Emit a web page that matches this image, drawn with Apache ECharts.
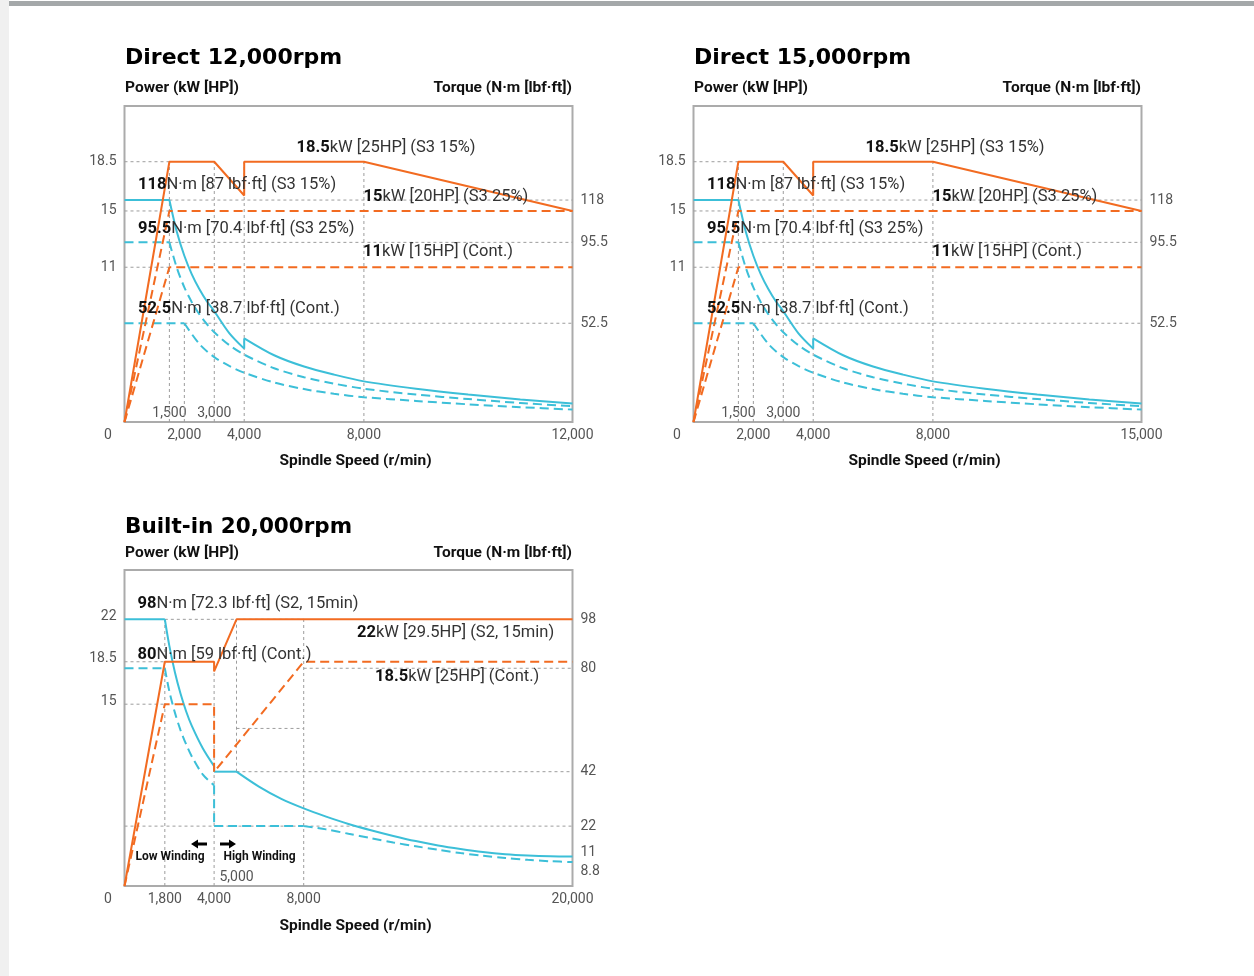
<!DOCTYPE html>
<html><head><meta charset="utf-8">
<script src="https://cdn.jsdelivr.net/npm/echarts@6/dist/echarts.min.js"></script>
<style>
html,body{margin:0;padding:0;background:#fff;}
#c{position:absolute;left:0;top:0;width:1254px;height:976px;}
#strip{position:absolute;left:0;top:0;width:9px;height:976px;background:#f0f0f0;}
#bar{position:absolute;left:9px;top:1px;width:1245px;height:5px;background:#a4a8a9;}
</style></head><body>
<div id="c"></div><div id="strip"></div><div id="bar"></div>
<script>
// ===== Direct 12,000rpm =====
const d12XTicks = [0, 2000, 4000, 8000, 12000];
const d12XInnerTicks = [1500, 3000];
const d12PowerTicks = [18.5, 15, 11];
const d12TorqueTicks = [118, 95.5, 52.5];
const d12PowerS3_15 = [[0,0],[1500,18.5],[3000,18.5],[4000,16.1],[4000,18.5],[8000,18.5],[12000,15]];
const d12PowerS3_25 = [[0,0],[1500,15],[12000,15]];
const d12PowerCont = [[0,0],[1500,11],[12000,11]];
const d12TorqueS3_15 = [
  [[0,118],[1500,118]],
  [[1500,118],[1750,101],[2000,88.4],[2250,78.5],[2500,70.7],[2750,64.2],[3000,58.9],[3500,47.3],[4000,39]],
  [[4000,39],[4000,44.5]],
  [[4000,44.5],[5000,35.5],[6000,29.5],[7000,25.2],[8000,21.6],[9000,17.7],[10000,14.6],[11000,12],[12000,9.8]]
];
const d12TorqueS3_25 = [
  [[0,95.5],[1500,95.5]],
  [[1500,95.5],[1750,81.9],[2000,71.6],[2250,63.7],[2500,57.3],[2750,52.1],[3000,47.7],[3500,40.9],[4000,35.8],[5000,28.6],[6000,23.8],[7000,20.4],[8000,17.7],[9000,14.6],[10000,12.2],[11000,10.1],[12000,8.4]]
];
const d12TorqueCont = [
  [[0,52.5],[2000,52.5]],
  [[2000,52.5],[2500,41.5],[3000,34.5],[3500,29.8],[4000,26.2],[5000,21],[6000,17.5],[7000,15],[8000,13.2],[9000,11.2],[10000,9.4],[11000,7.9],[12000,6.6]]
];
const d12HGridPower = [[18.5,0,1500],[15,0,1500],[11,0,1500]];
const d12HGridTorque = [[118,1500,12000],[95.5,1500,12000],[52.5,2000,12000]];
const d12VGridPower = [[1500,0,18.5],[3000,0,18.5],[4000,0,18.5],[8000,0,18.5]];
const d12VGridTorque = [[2000,0,52.5]];

// ===== Direct 15,000rpm =====
const d15XTicks = [0, 2000, 4000, 8000, 15000];
const d15XInnerTicks = [1500, 3000];
const d15PowerTicks = [18.5, 15, 11];
const d15TorqueTicks = [118, 95.5, 52.5];
const d15PowerS3_15 = [[0,0],[1500,18.5],[3000,18.5],[4000,16.1],[4000,18.5],[8000,18.5],[15000,15]];
const d15PowerS3_25 = [[0,0],[1500,15],[15000,15]];
const d15PowerCont = [[0,0],[1500,11],[15000,11]];
const d15TorqueS3_15 = [
  [[0,118],[1500,118]],
  [[1500,118],[1750,101],[2000,88.4],[2250,78.5],[2500,70.7],[2750,64.2],[3000,58.9],[3500,47.3],[4000,39]],
  [[4000,39],[4000,44.5]],
  [[4000,44.5],[5000,35.5],[6000,29.5],[7000,25.2],[8000,21.6],[9750,17.7],[11500,14.6],[13250,12],[15000,9.8]]
];
const d15TorqueS3_25 = [
  [[0,95.5],[1500,95.5]],
  [[1500,95.5],[1750,81.9],[2000,71.6],[2250,63.7],[2500,57.3],[2750,52.1],[3000,47.7],[3500,40.9],[4000,35.8],[5000,28.6],[6000,23.8],[7000,20.4],[8000,17.7],[9750,14.6],[11500,12.2],[13250,10.1],[15000,8.4]]
];
const d15TorqueCont = [
  [[0,52.5],[2000,52.5]],
  [[2000,52.5],[2500,41.5],[3000,34.5],[3500,29.8],[4000,26.2],[5000,21],[6000,17.5],[7000,15],[8000,13.2],[9750,11.2],[11500,9.4],[13250,7.9],[15000,6.6]]
];
const d15HGridPower = [[18.5,0,1500],[15,0,1500],[11,0,1500]];
const d15HGridTorque = [[118,1500,15000],[95.5,1500,15000],[52.5,2000,15000]];
const d15VGridPower = [[1500,0,18.5],[3000,0,18.5],[4000,0,18.5],[8000,0,18.5]];
const d15VGridTorque = [[2000,0,52.5]];

// ===== Built-in 20,000rpm =====
const d20XTicks = [0, 1800, 4000, 8000, 20000];
const d20XInnerTicks = [5000];
const d20PowerTicks = [22, 18.5, 15];
const d20TorqueTicks = [98, 80, 42, 22, 11, 8.8];
const d20PowerS2 = [[0,0],[1800,18.5],[4000,18.5],[4000,17.7],[5000,22],[20000,22]];
const d20PowerCont = [[0,0],[1800,15],[4000,15],[4000,9.4],[8000,18.5],[20000,18.5]];
const d20TorqueS2 = [
  [[0,98],[1800,98]],
  [[1800,98],[2000,88.3],[2250,78.5],[2500,70.7],[2750,64.2],[3000,58.9],[3500,50.5],[4000,44]],
  [[4000,44],[4000,42]],
  [[4000,42],[5000,42]],
  [[5000,42],[6000,36.5],[7000,32],[8000,28.5],[9000,25.5],[10000,22.8],[11000,20.5],[12000,18.4],[13000,16.5],[14000,14.9],[15000,13.6],[16000,12.5],[17000,11.7],[18000,11.2],[19000,10.9],[20000,10.8]]
];
const d20TorqueCont = [
  [[0,80],[1800,80]],
  [[1800,80],[2000,71.6],[2250,63.7],[2500,57.3],[2750,52.1],[3000,47.7],[3500,40.9],[4000,37]],
  [[4000,37],[4000,22]],
  [[4000,22],[8000,22]],
  [[8000,22],[9000,20.8],[10000,19.2],[11000,17.6],[12000,16.0],[13000,14.6],[14000,13.3],[15000,12.1],[16000,11.1],[17000,10.3],[18000,9.6],[19000,9.1],[20000,8.8]]
];
const d20HGridPower = [[22,1800,8000],[18.5,0,1800],[15,0,1800],[13,5000,8000]];
const d20HGridTorque = [[80,8000,20000],[42,5000,20000],[22,0,20000]];
const d20VGridPower = [[1800,0,22],[4000,0,18.5],[8000,0,22]];
const d20VGridTorque = [[5000,42,98]];

// ---------- layout / styling ----------
const ORANGE = '#f26b21', CYAN = '#3cbfd8', GRIDC = '#9d9d9d';
const FONT = 'Roboto';
const map12 = r => r <= 8000 ? r : 8000 + (r - 8000) * 6971 / 4000;
const map15 = r => r <= 8000 ? r : 8000 + (r - 8000) * 6971 / 7000;
const map20 = r => r;
const fmtNum = v => v.toLocaleString('en-US');

const charts = [
  {left:124.5, top:106, map:map12, xMax:map12(12000), pMax:22.46, tMax:168,
   xTicks:d12XTicks, xInner:d12XInnerTicks, pTicks:d12PowerTicks, tTicks:d12TorqueTicks,
   power:[[d12PowerS3_15,false],[d12PowerS3_25,true],[d12PowerCont,true]],
   torque:[[d12TorqueS3_15,false],[d12TorqueS3_25,true],[d12TorqueCont,true]],
   hgp:d12HGridPower, hgt:d12HGridTorque, vgp:d12VGridPower, vgt:d12VGridTorque, leftShift:0},
  {left:693.5, top:106, map:map15, xMax:map15(15000), pMax:22.46, tMax:168,
   xTicks:d15XTicks, xInner:d15XInnerTicks, pTicks:d15PowerTicks, tTicks:d15TorqueTicks,
   power:[[d15PowerS3_15,false],[d15PowerS3_25,true],[d15PowerCont,true]],
   torque:[[d15TorqueS3_15,false],[d15TorqueS3_25,true],[d15TorqueCont,true]],
   hgp:d15HGridPower, hgt:d15HGridTorque, vgp:d15VGridPower, vgt:d15VGridTorque, leftShift:0},
  {left:124.5, top:570, map:map20, xMax:20000, pMax:26.07, tMax:116.1,
   xTicks:d20XTicks, xInner:d20XInnerTicks, pTicks:d20PowerTicks, tTicks:d20TorqueTicks,
   power:[[d20PowerS2,false],[d20PowerCont,true]],
   torque:[[d20TorqueS2,false],[d20TorqueCont,true]],
   hgp:d20HGridPower, hgt:d20HGridTorque, vgp:d20VGridPower, vgt:d20VGridTorque, leftShift:6}
];

const grid = [], xAxis = [], yAxis = [], series = [];
const labelBase = {fontFamily: FONT, fontSize: 14, color: '#555'};

charts.forEach((c, g) => {
  grid.push({left:c.left, top:c.top, width:448, height:316, show:true, borderColor:'#ababab', borderWidth:2, backgroundColor:'transparent'});
  const findTick = (ticks, v) => { for (const t of ticks) if (Math.abs(c.map(t) - v) < 1) return t; return null; };
  xAxis.push({type:'value', gridIndex:g, position:'bottom', min:0, max:c.xMax,
    axisLine:{show:false}, axisTick:{show:false}, splitLine:{show:false},
    axisLabel:Object.assign({}, labelBase, {margin:6, customValues:c.xTicks.map(c.map),
      formatter: v => { const t = findTick(c.xTicks, v); return t === 0 ? '{z|0}' : fmtNum(t); },
      rich:{z:Object.assign({}, labelBase, {padding:[0,33,0,0]})}})});
  xAxis.push({type:'value', gridIndex:g, position:'bottom', min:0, max:c.xMax,
    axisLine:{show:false}, axisTick:{show:false}, splitLine:{show:false},
    axisLabel:Object.assign({}, labelBase, {inside:true, margin:2, customValues:c.xInner.map(c.map),
      formatter: v => fmtNum(findTick(c.xInner, v))})});
  yAxis.push({type:'value', gridIndex:g, position:'left', min:0, max:c.pMax,
    axisLine:{show:false}, axisTick:{show:false}, splitLine:{show:false},
    axisLabel:Object.assign({}, labelBase, {margin:8, customValues:c.pTicks,
      formatter: v => c.leftShift ? '{s|' + fmtNum(v) + '}' : fmtNum(v),
      rich:{s:Object.assign({}, labelBase, {padding:[0,0,c.leftShift,0]})}})});
  yAxis.push({type:'value', gridIndex:g, position:'right', min:0, max:c.tMax,
    axisLine:{show:false}, axisTick:{show:false}, splitLine:{show:false},
    axisLabel:Object.assign({}, labelBase, {margin:8, customValues:c.tTicks,
      formatter: v => v === 11 && g === 2 ? '{u|11}' : (v === 8.8 ? '{d|8.8}' : fmtNum(v)),
      rich:{u:Object.assign({}, labelBase, {padding:[0,0,8,0]}), d:Object.assign({}, labelBase, {padding:[18,0,0,0]})}})});

  const mk = (pts, yi, color, dashed, smooth, width, dash, z) => ({
    type:'line', xAxisIndex:2*g, yAxisIndex:2*g+yi,
    data: pts.map(p => [c.map(p[0]), p[1]]),
    symbol:'none', showSymbol:false, smooth: smooth ? 0.3 : false,
    lineStyle:{color, width, type: dashed ? dash : 'solid'}, z, silent:true, animation:false
  });
  c.hgp.forEach(h => series.push(mk([[h[1],h[0]],[h[2],h[0]]], 0, GRIDC, true, false, 1, [3,3], 1)));
  c.hgt.forEach(h => series.push(mk([[h[1],h[0]],[h[2],h[0]]], 1, GRIDC, true, false, 1, [3,3], 1)));
  c.vgp.forEach(v => series.push(mk([[v[0],v[1]],[v[0],v[2]]], 0, GRIDC, true, false, 1, [3,3], 1)));
  c.vgt.forEach(v => series.push(mk([[v[0],v[1]],[v[0],v[2]]], 1, GRIDC, true, false, 1, [3,3], 1)));
  c.power.forEach(([pts, dashed]) => series.push(mk(pts, 0, ORANGE, dashed, false, 2, [9,5], 3)));
  c.torque.forEach(([segs, dashed]) => segs.forEach(s => series.push(mk(s, 1, CYAN, dashed, s.length > 2, 2, [9,5], 2))));
});

// ---------- text ----------
const graphic = [];
function txt(x, y, text, opt) {
  graphic.push({type:'text', x, y, z:100, silent:true, style:Object.assign({text, fill:'#111', verticalAlign:'middle', align:'left'}, opt)});
}
function annot(x, y, b, n, align) {
  graphic.push({type:'text', x, y, z:100, silent:true, style:{
    text:'{b|' + b + '}{n|' + n + '}', align: align || 'left', verticalAlign:'middle',
    rich:{b:{fontFamily:FONT, fontWeight:'bold', fontSize:16.5, fill:'#111'},
          n:{fontFamily:FONT, fontSize:16.5, fill:'#333'}}}});
}
function arrow(xTail, xTip, y) {
  const d = xTip > xTail ? 1 : -1, hb = xTip - d * 7;
  graphic.push({type:'polygon', z:100, silent:true,
    shape:{points:[[xTail, y-1.5],[hb, y-1.5],[hb, y-4.5],[xTip, y],[hb, y+4.5],[hb, y+1.5],[xTail, y+1.5]]},
    style:{fill:'#000'}});
}
const titleStyle = {fontFamily:'DejaVu Sans', fontWeight:'bold', fontSize:22, fill:'#000'};
const subStyle = {fontFamily:FONT, fontWeight:'bold', fontSize:15.5, fill:'#111'};
const axStyle = {fontFamily:FONT, fontWeight:'bold', fontSize:15.5, fill:'#111', align:'center'};

[0, 569].forEach((dx, i) => {
  txt(125 + dx, 58, i === 0 ? 'Direct 12,000rpm' : 'Direct 15,000rpm', titleStyle);
  txt(125 + dx, 88, 'Power (kW [HP])', subStyle);
  txt(572 + dx, 88, 'Torque (N·m [lbf·ft])', Object.assign({}, subStyle, {align:'right'}));
  txt(355.5 + dx, 461, 'Spindle Speed (r/min)', axStyle);
  annot(296.5 + dx, 148, '18.5', 'kW [25HP] (S3 15%)');
  annot(138 + dx, 185, '118', 'N·m [87 lbf·ft] (S3 15%)');
  annot(363.5 + dx, 197, '15', 'kW [20HP] (S3 25%)');
  annot(138 + dx, 229, '95.5', 'N·m [70.4 lbf·ft] (S3 25%)');
  annot(363 + dx, 252, '11', 'kW [15HP] (Cont.)');
  annot(138 + dx, 309, '52.5', 'N·m [38.7 lbf·ft] (Cont.)');
});
txt(125, 527, 'Built-in 20,000rpm', Object.assign({}, titleStyle, {fontSize:21.5}));
txt(125, 553, 'Power (kW [HP])', subStyle);
txt(572, 553, 'Torque (N·m [lbf·ft])', Object.assign({}, subStyle, {align:'right'}));
txt(355.5, 926, 'Spindle Speed (r/min)', axStyle);
annot(137.5, 604, '98', 'N·m [72.3 lbf·ft] (S2, 15min)');
annot(357, 633, '22', 'kW [29.5HP] (S2, 15min)');
annot(137.5, 655, '80', 'N·m [59 lbf·ft] (Cont.)');
annot(375, 677, '18.5', 'kW [25HP] (Cont.)');
const windStyle = {fontFamily:FONT, fontWeight:'bold', fontSize:12, fill:'#111', align:'center'};
txt(170, 857, 'Low Winding', windStyle);
txt(259.5, 857, 'High Winding', windStyle);
arrow(207, 191, 844);
arrow(220, 236, 844);

const chart = echarts.init(document.getElementById('c'), null, {renderer:'canvas'});
chart.setOption({backgroundColor:'#fff', animation:false, grid, xAxis, yAxis, series, graphic});
</script></body></html>
